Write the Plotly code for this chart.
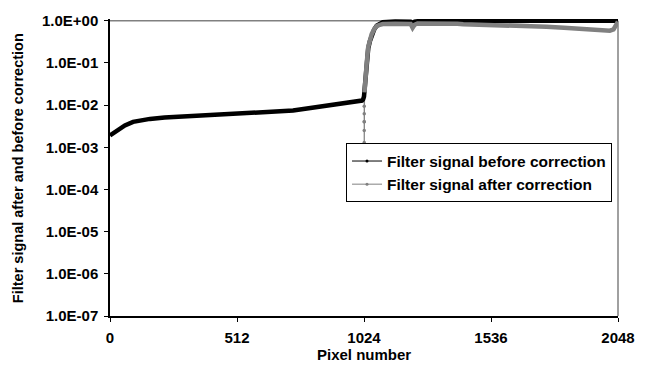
import plotly.graph_objects as go

# ---- data ----
before_x = [0, 20, 40, 60, 93, 130, 161, 220, 294, 363, 400, 496, 564, 600, 697, 738, 794, 833, 899,
            960, 1008, 1016, 1020, 1024, 1028, 1035, 1041, 1048, 1055, 1065, 1075, 1088, 1100,
            1150, 1200, 1212, 1220, 1228, 1240, 1300, 1400, 1500, 1600, 1700, 1800, 1900, 2000, 2048]
before_y = [1.9e-3, 2.3e-3, 2.8e-3, 3.3e-3, 4.0e-3, 4.4e-3, 4.7e-3, 5.1e-3, 5.4e-3, 5.6e-3, 6.0e-3, 6.5e-3,
            6.8e-3, 7.0e-3, 7.3e-3, 7.4e-3, 8.3e-3, 8.9e-3, 1.0e-2, 1.12e-2, 1.24e-2, 1.28e-2,
            1.35e-2, 1.6e-2, 3.0e-2, 9.0e-2, 0.22, 0.33, 0.45, 0.62, 0.76, 0.86, 0.92,
            0.96, 0.97, 0.95, 0.88, 0.95, 0.97, 0.98, 0.98, 0.99, 0.99, 0.99, 0.99, 0.99, 0.99, 1.0]

after_x = [1026, 1028, 1035, 1041, 1048, 1055, 1065, 1075, 1088, 1100, 1150, 1200, 1212, 1220,
           1228, 1240, 1300, 1400, 1424, 1500, 1600, 1693, 1760, 1830, 1895, 1962, 1990, 2015,
           2030, 2040, 2048]
after_y = [0.02, 0.035, 0.10, 0.24, 0.36, 0.48, 0.63, 0.74, 0.80, 0.83, 0.85, 0.86, 0.84, 0.68,
           0.80, 0.86, 0.87, 0.85, 0.82, 0.80, 0.79, 0.78, 0.72, 0.68, 0.64, 0.60, 0.61, 0.58,
           0.62, 0.75, 0.95]

# corrected signal around the dip just before pixel 1024
dip_x = [1018, 1022, 1025, 1025, 1025, 1025, 1025, 1025, 1025, 1026]
dip_y = [1.3e-2, 1.4e-2, 1.55e-2, 9.4e-3, 6.2e-3, 4.0e-3, 2.5e-3, 1.3e-3, 4.0e-3, 2e-2]

x_ticks = [0, 512, 1024, 1536, 2048]
y_ticks = [1e-7, 1e-6, 1e-5, 1e-4, 1e-3, 1e-2, 1e-1, 1e0]
y_ticktext = ["1.0E-07", "1.0E-06", "1.0E-05", "1.0E-04", "1.0E-03", "1.0E-02", "1.0E-01", "1.0E+00"]

BLACK = "#000000"
GRAY = "#808080"
FONT = "Arial, 'Liberation Sans', sans-serif"

fig = go.Figure()

fig.add_trace(go.Scatter(x=dip_x, y=dip_y, mode="lines+markers",
                         line=dict(color=GRAY, width=1.2), marker=dict(color=GRAY, size=3.5),
                         showlegend=False, hoverinfo="skip"))
fig.add_trace(go.Scatter(x=before_x, y=before_y, mode="lines",
                         line=dict(color=BLACK, width=4.5), showlegend=False))
fig.add_trace(go.Scatter(x=after_x, y=after_y, mode="lines",
                         line=dict(color=GRAY, width=4.5), showlegend=False))

# legend entries (thin line with small marker, as in the reference)
fig.add_trace(go.Scatter(x=[None], y=[None], mode="lines+markers", name="Filter signal before correction",
                         line=dict(color=BLACK, width=1), marker=dict(color=BLACK, size=3)))
fig.add_trace(go.Scatter(x=[None], y=[None], mode="lines+markers", name="Filter signal after correction",
                         line=dict(color=GRAY, width=1), marker=dict(color=GRAY, size=3)))

top_frac = 7 / 7.04
fig.add_shape(type="line", xref="paper", yref="paper", x0=0, x1=1, y0=top_frac, y1=top_frac,
              line=dict(color=GRAY, width=1.5), layer="below")
fig.add_shape(type="line", xref="paper", yref="paper", x0=1, x1=1, y0=0, y1=top_frac,
              line=dict(color=GRAY, width=1.5), layer="below")

fig.add_annotation(text="<b>Pixel number</b>", xref="paper", yref="paper", x=0.5, y=-0.129,
                   xanchor="center", yanchor="middle", showarrow=False,
                   font=dict(family=FONT, size=15, color=BLACK))
fig.add_annotation(text="<b>Filter signal after and before correction</b>", xref="paper", yref="paper",
                   x=-0.181, y=0.498, xanchor="center", yanchor="middle", textangle=-90,
                   showarrow=False, font=dict(family=FONT, size=14.5, color=BLACK))

fig.update_layout(
    width=662, height=370,
    margin=dict(l=110, r=44, t=13, b=54),
    paper_bgcolor="white", plot_bgcolor="white",
    font=dict(family=FONT, size=15, color=BLACK),
    showlegend=True,
    legend=dict(x=0.4646, y=0.581, xanchor="left", yanchor="top",
                bgcolor="white", bordercolor=BLACK, borderwidth=1,
                font=dict(family=FONT, size=15.5, color=BLACK, weight="bold"),
                itemwidth=30, tracegroupgap=0),
)
fig.update_xaxes(range=[0, 2048], tickvals=x_ticks, ticktext=[f"<b>{v}</b>" for v in x_ticks],
                 showgrid=False, zeroline=False, showline=True, linecolor=BLACK, linewidth=1.5,
                 ticks="outside", ticklen=4, tickcolor=BLACK, ticklabelstandoff=3,
                 tickfont=dict(family=FONT, size=15, color=BLACK))
fig.update_yaxes(type="log", range=[-7, 0.04], tickvals=y_ticks,
                 ticktext=[f"<b>{t}</b>" for t in y_ticktext],
                 showgrid=False, zeroline=False, showline=True, linecolor=BLACK, linewidth=1.5,
                 ticks="outside", ticklen=4, tickcolor=BLACK, ticklabelstandoff=3,
                 tickfont=dict(family=FONT, size=15, color=BLACK))

fig.write_html("out.html")
